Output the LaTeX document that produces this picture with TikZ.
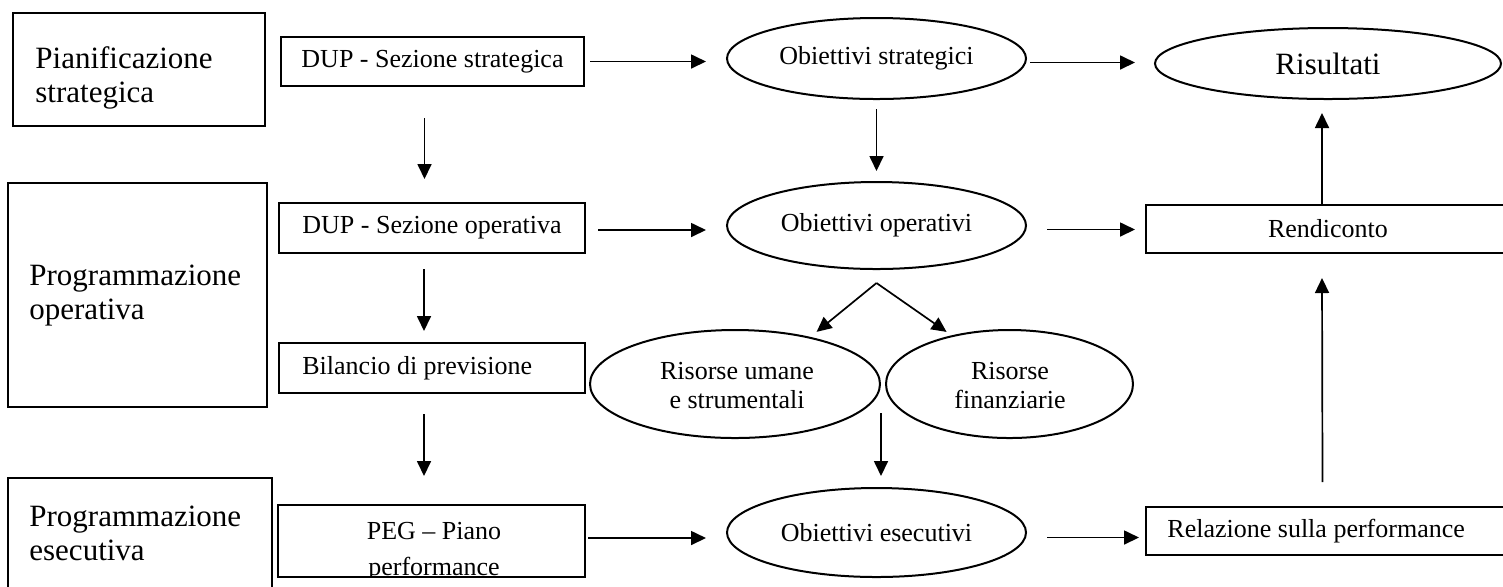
\documentclass[tikz,border=0pt]{standalone}
\usepackage{fontspec}
\setmainfont{Liberation Serif}
\usetikzlibrary{shapes.geometric,arrows.meta}
\begin{document}
\begin{tikzpicture}[x=0.5pt,y=-0.5pt,
  smallfont/.style={font=\fontsize{13pt}{14.5pt}\selectfont},
  bigfont/.style={font=\fontsize{15.5pt}{17pt}\selectfont},
  box/.style={draw,line width=1pt,rectangle,inner sep=0pt,smallfont},
  oval/.style={draw,line width=1pt,ellipse,inner sep=0pt,smallfont,align=center},
  txt/.style={inner sep=0pt,smallfont},
  arr/.style={line width=0.85pt,-{Triangle[length=7.5pt,width=7pt]}}]
\useasboundingbox (0,0) rectangle (1503,586);
% left column boxes
\node[box,minimum width=126pt,minimum height=56.5pt] (p1) at (139,69.5) {};
\node[txt,bigfont,align=left,anchor=north west] (p1t) at (35,46.6) {Pianificazione\\strategica};
\node[box,minimum width=129.5pt,minimum height=112pt] (p2) at (137.5,295) {};
\node[txt,bigfont,align=left,anchor=north west] (p2t) at (29,264.6) {Programmazione\\operativa};
\node[box,minimum width=132pt,minimum height=71pt] (p3) at (140,549) {};
\node[txt,bigfont,align=left,anchor=north west] (p3t) at (29,505.6) {Programmazione\\esecutiva};
% second column
\node[box,minimum width=151.5pt,minimum height=24.5pt] (dups) at (432.5,61.5) {DUP - Sezione strategica};
\node[box,minimum width=153pt,minimum height=25pt] (dupo) at (432,228) {DUP - Sezione operativa};
\node[box,minimum width=153pt,minimum height=25pt] (bil) at (432,368) {};
\node[txt,anchor=west] (bilt) at (302,368) {Bilancio di previsione};
\node[box,minimum width=153.5pt,minimum height=36pt] (peg) at (431.5,541) {};
\begin{scope}
\clip ([shift={(0.5pt,1.2pt)}]peg.south west) rectangle ([shift={(-0.5pt,-0.5pt)}]peg.north east);
\node[txt,align=center,anchor=north,font=\fontsize{13pt}{18pt}\selectfont] (pegt) at (434,522.2) {PEG – Piano\\performance};
\end{scope}
% ellipses
\node[oval,minimum width=149.5pt,minimum height=40.5pt] (obs) at (876.5,58.5) {Obiettivi strategici};
\node[oval,minimum width=149.5pt,minimum height=43.5pt] (obo) at (876.5,225.5) {Obiettivi operativi};
\node[oval,minimum width=149.5pt,minimum height=44.5pt] (oe) at (876.5,532.5) {Obiettivi esecutivi};
\node[oval,minimum width=145pt,minimum height=54pt] (ru) at (735,384) {};
\node[txt,align=center,anchor=north] (rut) at (737,362.2) {Risorse umane\\e strumentali};
\node[oval,minimum width=123.5pt,minimum height=54pt] (rf) at (1009.5,384) {};
\node[txt,align=center,anchor=north] (rft) at (1010,362.2) {Risorse\\finanziarie};
% right column
\node[oval,bigfont,minimum width=173pt,minimum height=35.5pt] (ris) at (1328,63.5) {Risultati};
\node[box,minimum width=182pt,minimum height=24pt] (ren) at (1328,229) {Rendiconto};
\node[box,minimum width=184.5pt,minimum height=24pt] (rel) at (1330.5,531) {};
\node[txt,anchor=west] (relt) at (1167,531) {Relazione sulla performance};
% horizontal arrows
\draw[arr] ([xshift=2.5pt]dups.east) -- ([xshift=-10pt]dups.east -| obs.west);
\draw[arr] ([xshift=1.5pt,yshift=-2pt]obs.east) -- ([xshift=-9.5pt,yshift=-2pt]obs.east -| ris.west);
\draw[arr] ([xshift=6pt,yshift=-1pt]dupo.east) -- ([xshift=-10pt,yshift=-1pt]dupo.east -| obo.west);
\draw[arr] ([xshift=10pt,yshift=-2pt]obo.east) -- ([xshift=-5pt,yshift=-2pt]obo.east -| ren.west);
\draw[arr] ([xshift=1pt,yshift=1.5pt]peg.east) -- ([xshift=-10pt,yshift=1.5pt]peg.east -| oe.west);
\draw[arr] ([xshift=10pt,yshift=-2.5pt]oe.east) -- ([xshift=-3pt,yshift=-2.5pt]oe.east -| rel.west);
% vertical arrows left column
\draw[arr] ([xshift=-4pt,yshift=-15.5pt]dups.south) -- ([xshift=-4pt,yshift=11.5pt]dups.south |- dupo.north);
\draw[arr] ([xshift=-4pt,yshift=-7.5pt]dupo.south) -- ([xshift=-4pt,yshift=5.5pt]dupo.south |- bil.north);
\draw[arr] ([xshift=-4pt,yshift=-10pt]bil.south) -- ([xshift=-4pt,yshift=14pt]bil.south |- peg.north);
% middle column
\draw[arr] ([yshift=-4.5pt]obs.south) -- ([yshift=5pt]obo.north);
\coordinate (split) at ([yshift=-6.5pt]obo.south);
\draw[arr,shorten >=4pt] (split) -- (ru.32);
\draw[arr,shorten >=3pt] (split) -- (rf.140);
\coordinate (join) at ([yshift=-14.5pt]ru.east);
\draw[arr] (join) -- ([yshift=5.5pt]join |- oe.north);
% right column up arrows
\draw[arr] ([xshift=-3pt]ren.north) -- ([xshift=-3pt,yshift=-6.5pt]ris.south);
\draw[arr] ([xshift=-4pt,yshift=12pt]rel.north) -- ([xshift=-3pt,yshift=-12pt]ren.south);
\end{tikzpicture}
\end{document}
